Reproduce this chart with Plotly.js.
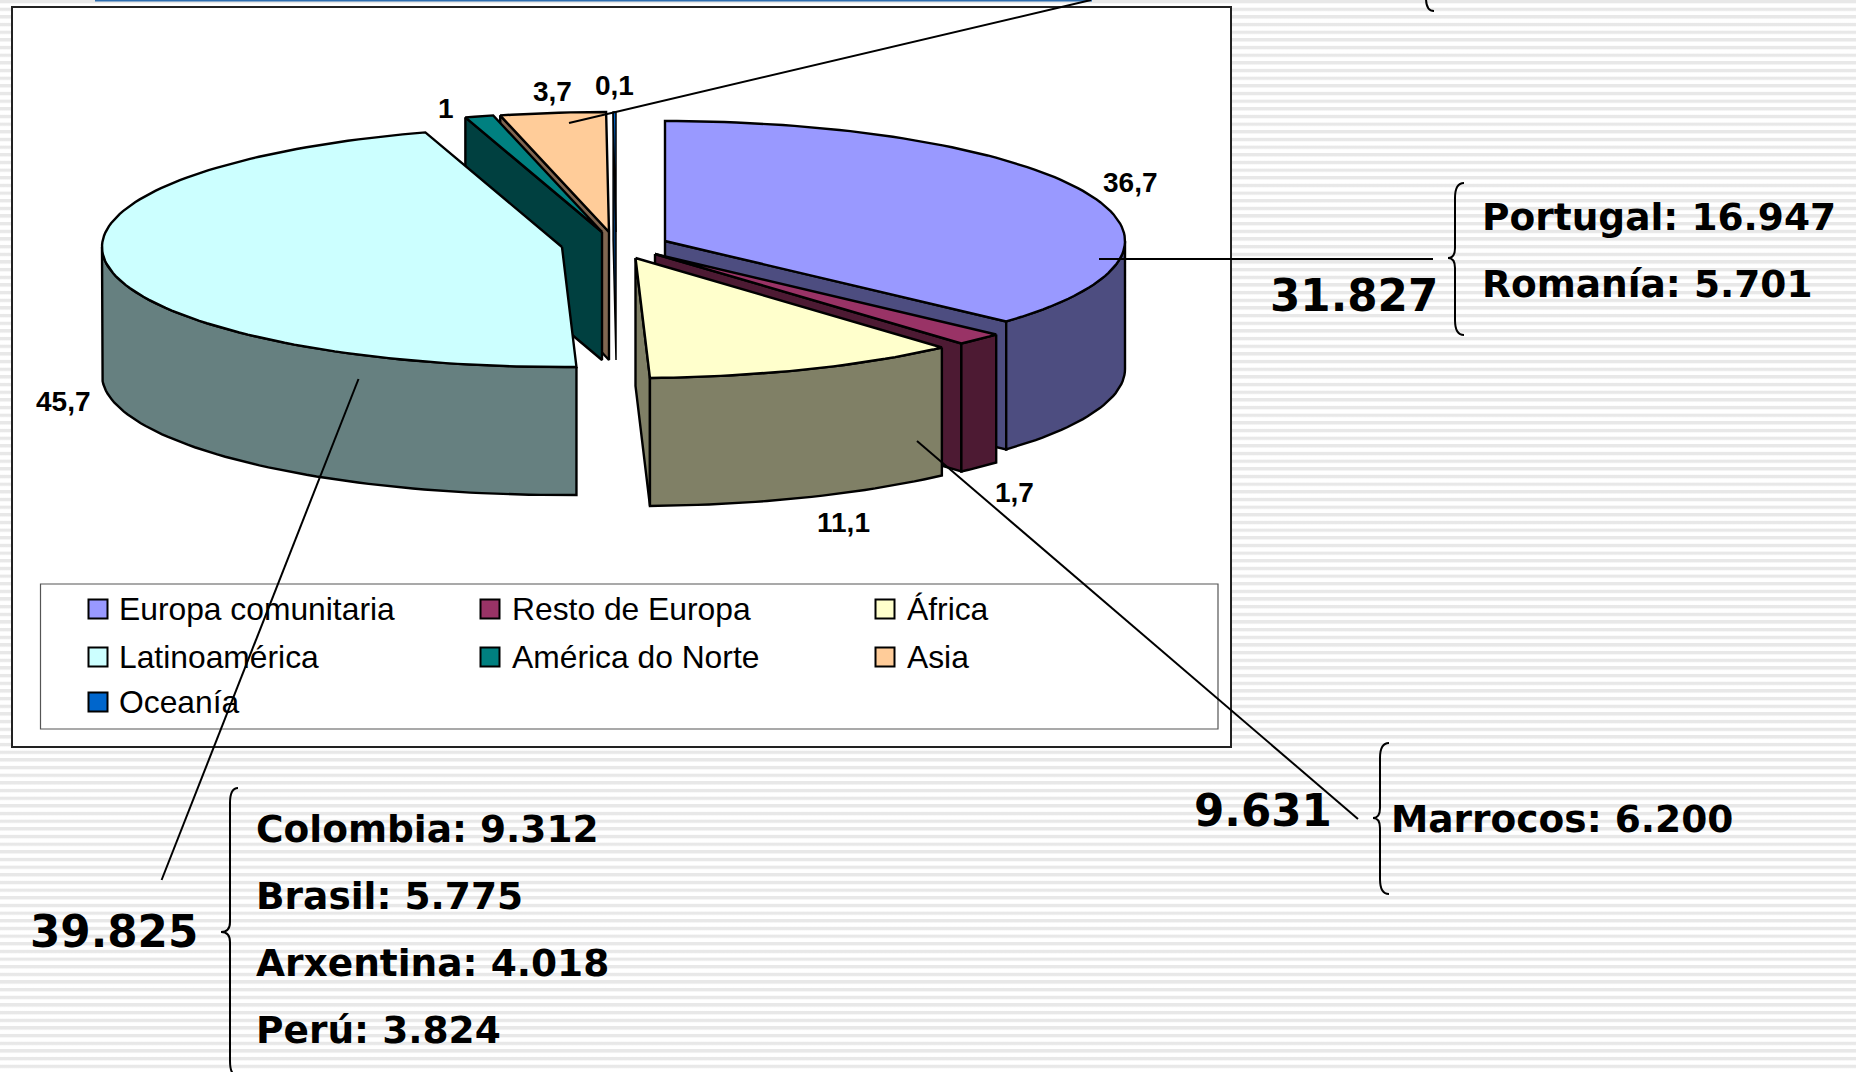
<!DOCTYPE html>
<html>
<head>
<meta charset="utf-8">
<script src="https://cdn.plot.ly/plotly-3.0.1.min.js"></script>
<style>
html,body{margin:0;padding:0;width:1856px;height:1072px;overflow:hidden;background-color:#fff;
background-image:repeating-linear-gradient(to bottom,#e8e8e8 0px,#e8e8e8 2.6px,#f7f7f7 3.4px,#ffffff 4.2px,#ffffff 7px,#f6f6f6 7.66px);}
#chart{width:1856px;height:1072px;}
</style>
</head>
<body>
<div id="chart"></div>
<script>
// ---- data ----
const categories = ["Europa comunitaria","Resto de Europa","África","Latinoamérica","América do Norte","Asia","Oceanía"];
const shares = [36.7,1.7,11.1,45.7,1,3.7,0.1];
const topColors = ["#9999FF","#993366","#FFFFCC","#CCFFFF","#008080","#FFCC99","#0066CC"];
const sideColors = ["#4D4D80","#4D1A33","#808066","#668080","#004040","#806650","#003366"];
const shareLabels = ["36,7","1,7","11,1","45,7","1","3,7","0,1"];
const labelX = [1130,1014,843,63,446,552,614];
const labelY = [182,492,522,401,108,91,85];

const groupTotals = ["31.827","39.825","9.631"];
const europeDetail = ["Portugal: 16.947","Romanía: 5.701"];
const latinDetail = ["Colombia: 9.312","Brasil: 5.775","Arxentina: 4.018","Perú: 3.824"];
const africaDetail = ["Marrocos: 6.200"];

// ---- pie geometry (exploded slices, oblique projection) ----
const apexX = [665,655,635.5,562,602,609,616];
const apexY = [241,254,258,247,232,232,232];
const RX = 460, RY = 120, DEPTH = 128;

const rad = d => d*Math.PI/180;
function rimPoint(i,a,dz){return [apexX[i]+RX*Math.sin(rad(a)), apexY[i]-RY*Math.cos(rad(a))+dz];}
function arc(i,a0,a1,dz){
  const n=Math.max(2,Math.ceil(Math.abs(a1-a0)/1.5)), out=[];
  for(let k=0;k<=n;k++) out.push(rimPoint(i,a0+(a1-a0)*k/n,dz));
  return out;
}
function poly(pts,fill,width){
  const c=pts.concat([pts[0]]);
  return {type:"scatter",mode:"lines",x:c.map(p=>p[0]),y:c.map(p=>p[1]),fill:"toself",fillcolor:fill,
    line:{color:"#000",width:width||2.4,shape:"linear"},hoverinfo:"skip",showlegend:false};
}
let acc=0; const startA=[],endA=[];
shares.forEach((v,i)=>{startA[i]=acc*3.6;acc+=v;endA[i]=acc*3.6;});

const traces=[];
[6,5,4,3,0,1,2].forEach(i=>{
  const a0=startA[i],a1=endA[i],ax=apexX[i],ay=apexY[i],w=i===6?1.5:2.4;
  const faceAt=a=>{const r=rimPoint(i,a,0),b=rimPoint(i,a,DEPTH);return [[ax,ay],r,b,[ax,ay+DEPTH]];};
  if(a1<=180) traces.push(poly(faceAt(a1),sideColors[i],w));
  if(a0>=180) traces.push(poly(faceAt(a0),sideColors[i],w));
  const f0=Math.max(a0,90),f1=Math.min(a1,270);
  if(f1>f0) traces.push(poly(arc(i,f0,f1,0).concat(arc(i,f1,f0,DEPTH)),sideColors[i],w));
  traces.push(poly([[ax,ay]].concat(arc(i,a0,a1,0)),topColors[i],w));
});

// ---- legend built from categories ----
const legCols=[98,490,885], legTextX=[119,512,907], legRows=[609,657,702];
const annotations=[];
categories.forEach((c,i)=>{
  const col=i%3,row=Math.floor(i/3);
  traces.push({type:"scatter",mode:"markers",x:[legCols[col]],y:[legRows[row]],name:c,hoverinfo:"name",showlegend:false,
    marker:{symbol:"square",size:19,color:topColors[i],line:{color:"#000",width:2}}});
  annotations.push(txt(c,legTextX[col],legRows[row],"Liberation Sans, Arial, sans-serif",31.8,false));
});
function txt(t,x,y,fam,size,bold,anchor){
  return {text:bold?"<b>"+t+"</b>":t,x:x,y:y,xref:"x",yref:"y",showarrow:false,xanchor:anchor||"left",yanchor:"middle",
    font:{family:fam,size:size,color:"#000"},borderpad:0,borderwidth:0};
}
shareLabels.forEach((s,i)=>annotations.push(txt(s,labelX[i],labelY[i],"Liberation Sans, Arial, sans-serif",28,true,"center")));
const VD="DejaVu Sans, Verdana, sans-serif";
[[groupTotals[0],1270,296],[groupTotals[1],30,932],[groupTotals[2],1194,811]].forEach(a=>annotations.push(txt(a[0],a[1],a[2],VD,43.6,true)));
[217,284].forEach((y,i)=>annotations.push(txt(europeDetail[i],1482,y,VD,37.5,true)));
[829,896,963,1030].forEach((y,i)=>annotations.push(txt(latinDetail[i],256,y,VD,37.5,true)));
annotations.push(txt(africaDetail[0],1391,819,VD,37.5,true));

// ---- frame, leaders, braces ----
const frame=(x0,y0,x1,y1,col,w)=>({type:"rect",layer:"below",xref:"x",yref:"y",x0,y0,x1,y1,fillcolor:"#fff",line:{color:col,width:w}});
const seg=(x0,y0,x1,y1,w)=>({type:"line",xref:"x",yref:"y",x0,y0,x1,y1,line:{color:"#000",width:w||2}});
function brace(xTip,xSpine,xEnd,yTop,yMid,yBot){
  const r=10;
  const p=`M ${xEnd} ${yTop} Q ${xSpine} ${yTop} ${xSpine} ${yTop+r*1.5} L ${xSpine} ${yMid-r} Q ${xSpine} ${yMid} ${xTip} ${yMid} Q ${xSpine} ${yMid} ${xSpine} ${yMid+r} L ${xSpine} ${yBot-r*1.5} Q ${xSpine} ${yBot} ${xEnd} ${yBot}`;
  return {type:"path",xref:"x",yref:"y",path:p,line:{color:"#000",width:2},fillcolor:"rgba(0,0,0,0)"};
}
const shapes=[
  {type:"rect",layer:"below",xref:"x",yref:"y",x0:95,y0:0,x1:1092,y1:1.6,fillcolor:"#2E6EB0",line:{width:0}},
  frame(12,7,1231,747,"#222",2),
  frame(40.5,584,1218,729,"#555",1.2),
  seg(569,123,1091,0),
  seg(1099,259,1433,259),
  seg(358.5,379,161.6,880),
  seg(917,441,1358,819),
  brace(1448,1455,1464,183,258,335),
  brace(221,230,238,788,932,1076),
  brace(1373,1380,1389,743,818,894),
  {type:"path",xref:"x",yref:"y",path:"M 1426 -2 Q 1426 11 1434 11",line:{color:"#000",width:2},fillcolor:"rgba(0,0,0,0)"}
];

const layout={
  width:1856,height:1072,margin:{l:0,r:0,t:0,b:0,pad:0},
  paper_bgcolor:"rgba(0,0,0,0)",plot_bgcolor:"rgba(0,0,0,0)",showlegend:false,hovermode:false,
  xaxis:{range:[0,1856],visible:false,fixedrange:true},
  yaxis:{range:[1072,0],visible:false,fixedrange:true},
  shapes:shapes,annotations:annotations
};
Plotly.newPlot("chart",traces,layout,{displayModeBar:false,responsive:false});
</script>
</body>
</html>
